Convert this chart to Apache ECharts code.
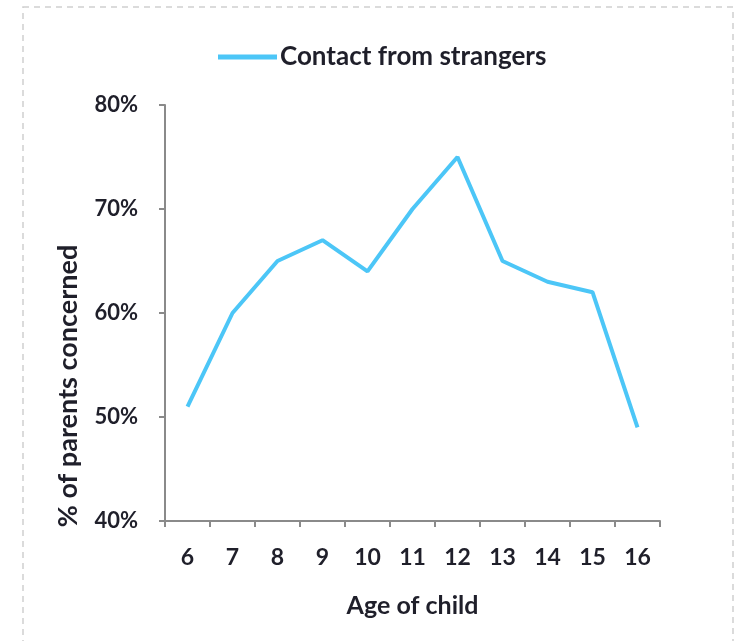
<!DOCTYPE html>
<html>
<head>
<meta charset="utf-8">
<style>
  html, body { margin: 0; padding: 0; background: #fff; }
  #chart { width: 741px; height: 641px; }
</style>
<script src="https://cdn.jsdelivr.net/npm/echarts@6/dist/echarts.min.js"></script>
</head>
<body>
<div id="chart"></div>
<script>
// ages on the x axis and share of parents concerned (%)
let ages = ['6', '7', '8', '9', '10', '11', '12', '13', '14', '15', '16'];
let contactFromStrangers = [51, 60, 65, 67, 64, 70, 75, 65, 63, 62, 49];
let seriesName = 'Contact from strangers';

let font = 'Lato, "Open Sans", sans-serif';
let textColor = '#1f1f2a';
let axisColor = '#8a8a8a';

let chart = echarts.init(document.getElementById('chart'));

chart.setOption({
    animation: false,
    backgroundColor: '#fff',
    legend: {
        top: 39,
        left: 213,
        itemWidth: 59,
        itemHeight: 5,
        itemGap: 4,
        icon: 'rect',
        textStyle: {
            fontFamily: font,
            fontWeight: 'bold',
            fontSize: 26,
            padding: [0, 0, 0, -2],
            color: textColor
        },
        data: [seriesName]
    },
    grid: {
        left: 165,
        right: 81,
        top: 105,
        bottom: 120
    },
    xAxis: {
        type: 'category',
        data: ages,
        boundaryGap: true,
        name: 'Age of child',
        nameLocation: 'middle',
        nameGap: 72,
        nameTextStyle: {
            fontFamily: font,
            fontWeight: 'bold',
            fontSize: 25,
            color: textColor
        },
        axisLine: { lineStyle: { color: axisColor, width: 2 } },
        axisTick: { show: true, length: 6, inside: false, lineStyle: { color: axisColor, width: 2 } },
        axisLabel: {
            margin: 25,
            fontFamily: font,
            fontWeight: 'bold',
            fontSize: 23,
            color: textColor
        }
    },
    yAxis: {
        type: 'value',
        min: 40,
        max: 80,
        interval: 10,
        axisLine: { show: true, lineStyle: { color: axisColor, width: 2 } },
        axisTick: { show: true, length: 6, lineStyle: { color: axisColor, width: 2 } },
        splitLine: { show: false },
        axisLabel: {
            margin: 27,
            fontFamily: font,
            fontWeight: 'bold',
            fontSize: 22,
            color: textColor,
            formatter: '{value}%'
        }
    },
    graphic: [
        {
            type: 'rect',
            shape: { x: 23, y: 7, width: 710, height: 660 },
            style: { fill: 'none', stroke: '#cfcfcf', lineWidth: 1.5, lineDash: [6, 5] },
            silent: true
        },
        {
            type: 'text',
            x: 68,
            y: 386,
            rotation: Math.PI / 2,
            style: {
                text: '% of parents concerned',
                fontFamily: font,
                fontWeight: 'bold',
                fontSize: 27,
                fill: textColor,
                align: 'center',
                verticalAlign: 'middle'
            }
        }
    ],
    series: [{
        name: seriesName,
        type: 'line',
        data: contactFromStrangers,
        symbol: 'none',
        lineStyle: { color: '#4cc6f7', width: 4 },
        itemStyle: { color: '#4cc6f7' }
    }]
});
</script>
</body>
</html>
